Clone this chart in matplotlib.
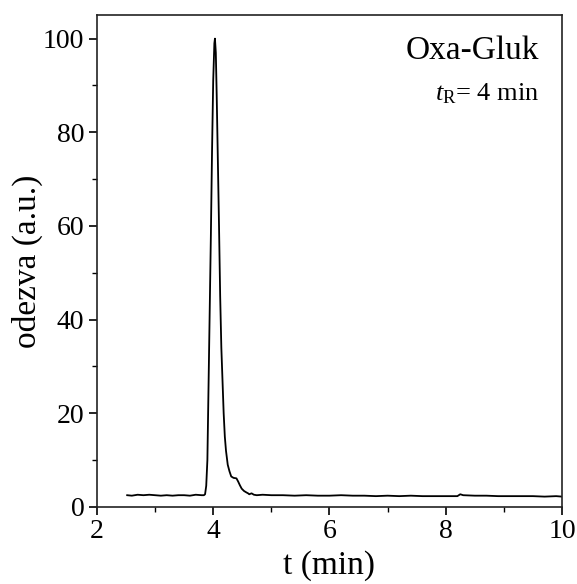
import matplotlib.pyplot as plt
import numpy as np

plt.rcParams['font.family'] = ['Liberation Serif', 'DejaVu Serif']
plt.rcParams['mathtext.fontset'] = 'custom'
plt.rcParams['mathtext.rm'] = 'Liberation Serif'
plt.rcParams['mathtext.it'] = 'Liberation Serif:italic'

# retention time (min) and detector response (a.u.)
t_base1 = [2.52, 2.6, 2.7, 2.8, 2.9, 3.0, 3.1, 3.2, 3.3, 3.4, 3.5, 3.6, 3.7, 3.8]
r_base1 = [2.5, 2.4, 2.6, 2.5, 2.6, 2.5, 2.4, 2.5, 2.4, 2.5, 2.5, 2.4, 2.6, 2.5]

t_peak = [3.84, 3.86, 3.88, 3.90, 3.92, 3.94, 3.96, 3.98, 4.00, 4.02, 4.03,
          4.045, 4.06, 4.08, 4.10, 4.12, 4.14, 4.16, 4.18, 4.20, 4.22, 4.25,
          4.28, 4.31, 4.35, 4.40, 4.43, 4.46, 4.49, 4.53, 4.57, 4.60, 4.62,
          4.66, 4.70, 4.75]
r_peak = [2.5, 2.7, 4.5, 10, 26, 42, 58, 76, 91, 99, 100,
          97, 88, 74, 60, 45, 34, 27, 20, 15, 12, 9,
          7.6, 6.5, 6.2, 6.1, 5.4, 4.6, 3.9, 3.4, 3.1, 2.9, 2.7,
          2.9, 2.6, 2.5]

t_base2 = [4.85, 5.0, 5.2, 5.4, 5.6, 5.8, 6.0, 6.2, 6.4, 6.6, 6.8, 7.0, 7.2,
           7.4, 7.6, 7.8, 8.0, 8.2, 8.25, 8.3, 8.5, 8.7, 8.9, 9.1, 9.3, 9.5,
           9.7, 9.9, 10.0]
r_base2 = [2.6, 2.5, 2.5, 2.4, 2.5, 2.4, 2.4, 2.5, 2.4, 2.4, 2.3, 2.4, 2.3,
           2.4, 2.3, 2.3, 2.3, 2.3, 2.7, 2.5, 2.4, 2.4, 2.3, 2.3, 2.3, 2.3,
           2.2, 2.3, 2.2]

t = np.array(t_base1 + t_peak + t_base2)
resp = np.array(r_base1 + r_peak + r_base2)

fig = plt.figure(figsize=(5.77, 5.84), dpi=100)
ax = fig.add_axes([0.168, 0.132, 0.806, 0.842])

ax.plot(t, resp, color='black', lw=1.3)

ax.set_xlim(2, 10)
ax.set_ylim(0, 105)
ax.set_xticks([2, 4, 6, 8, 10])
ax.set_xticks([3, 5, 7, 9], minor=True)
ax.set_yticks([0, 20, 40, 60, 80, 100])
ax.set_yticks([10, 30, 50, 70, 90], minor=True)

ax.tick_params(which='major', direction='out', length=6, width=1.2,
               labelsize=20, pad=3)
ax.tick_params(which='minor', direction='out', length=3.5, width=1.0)
ax.tick_params(which='both', top=False, right=False)

for s in ax.spines.values():
    s.set_linewidth(1.2)
    s.set_color('#222222')

ax.set_xlabel('t (min)', fontsize=24, labelpad=4)
ax.set_ylabel('odezva (a.u.)', fontsize=24, labelpad=0)

ax.text(0.951, 0.958, 'Oxa-Gluk', transform=ax.transAxes, ha='right',
        va='top', fontsize=24)
ax.text(0.951, 0.865, r'$t_{\mathrm{R}}$= 4 min', transform=ax.transAxes,
        ha='right', va='top', fontsize=19)

fig.savefig('out.png', dpi=100)
